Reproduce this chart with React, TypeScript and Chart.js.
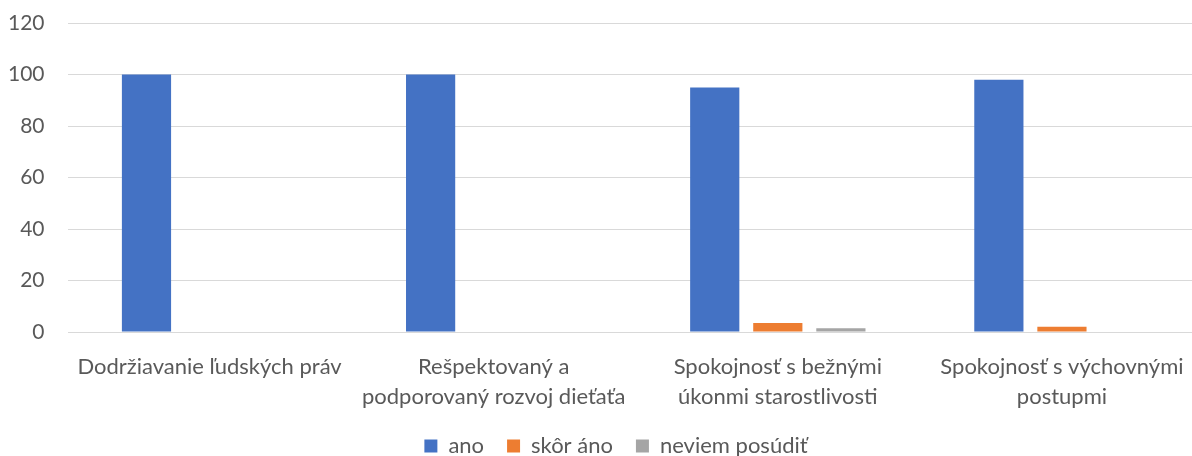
import React, { useEffect, useRef } from "react";
import { Chart, registerables } from "chart.js";

Chart.register(...registerables);

const categories: string[][] = [
  ["Dodržiavanie ľudských práv"],
  ["Rešpektovaný a", "podporovaný rozvoj dieťaťa"],
  ["Spokojnosť s bežnými", "úkonmi starostlivosti"],
  ["Spokojnosť s výchovnými", "postupmi"],
];
const seriesNames = ["ano", "skôr áno", "neviem posúdiť"];
const anoValues = [100, 100, 95, 98];
const skorAnoValues = [0, 0, 3.5, 2];
const neviemValues = [0, 0, 1.5, 0];
const yTicks = [0, 20, 40, 60, 80, 100, 120];

const FONT = "Lato, 'Noto Sans', sans-serif";

const layoutTweak = {
  id: "layoutTweak",
  afterLayout(chart: any) {
    const l = chart.legend;
    if (l) {
      const pad = l.options.labels.padding;
      const fs = l.options.labels.font.size;
      const targetTop = 446 - pad - fs / 2;
      const dy = targetTop - l.top;
      l.top += dy;
      l.bottom += dy;
      l.left += 14;
      l.right += 14;
    }
    const x = chart.scales.x;
    if (x) {
      x.bottom += 30;
      x.height += 30;
    }
  },
};

export default function App() {
  const ref = useRef<HTMLCanvasElement | null>(null);

  useEffect(() => {
    document.body.style.margin = "0";
    document.body.style.overflow = "hidden";
    const ctx = ref.current!;
    const chart = new Chart(ctx, {
      type: "bar",
      data: {
        labels: categories,
        datasets: [
          { label: seriesNames[0], data: anoValues, backgroundColor: "#4472C4" },
          { label: seriesNames[1], data: skorAnoValues, backgroundColor: "#ED7D31" },
          { label: seriesNames[2], data: neviemValues, backgroundColor: "#A5A5A5" },
        ],
      },
      plugins: [layoutTweak],
      options: {
        animation: false,
        responsive: false,
        maintainAspectRatio: false,
        layout: { padding: { top: 23, left: 0, right: 0, bottom: 0 } },
        datasets: {
          bar: { categoryPercentage: 0.666, barPercentage: 0.78 },
        },
        plugins: {
          tooltip: { enabled: false },
          legend: {
            position: "bottom",
            labels: {
              boxWidth: 13,
              boxHeight: 13,
              padding: 23,
              color: "#595959",
              font: { family: FONT, size: 22 },
            },
          },
        },
        scales: {
          x: {
            grid: { display: false },
            border: { display: false },
            afterFit: (scale: any) => {
              scale.height = 69;
            },
            ticks: {
              color: "#595959",
              font: { family: FONT, size: 22, lineHeight: 1.35 },
              maxRotation: 0,
              autoSkip: false,
              padding: 12,
            },
          },
          y: {
            min: 0,
            max: 120,
            afterBuildTicks: (scale: any) => {
              scale.ticks = yTicks.map((v) => ({ value: v }));
            },
            afterFit: (scale: any) => {
              scale.width = 67.5;
              scale.paddingTop = 0;
              scale.paddingBottom = 0;
            },
            grid: { color: "#D9D9D9", lineWidth: 1, drawTicks: false },
            border: { display: false },
            ticks: {
              color: "#595959",
              font: { family: FONT, size: 21 },
              padding: 23,
            },
          },
        },
      },
    });
    return () => chart.destroy();
  }, []);

  return (
    <div style={{ width: 1192, height: 456, overflow: "hidden", position: "relative", background: "#fff" }}>
      <canvas ref={ref} width={1204} height={456} style={{ display: "block" }} />
    </div>
  );
}
